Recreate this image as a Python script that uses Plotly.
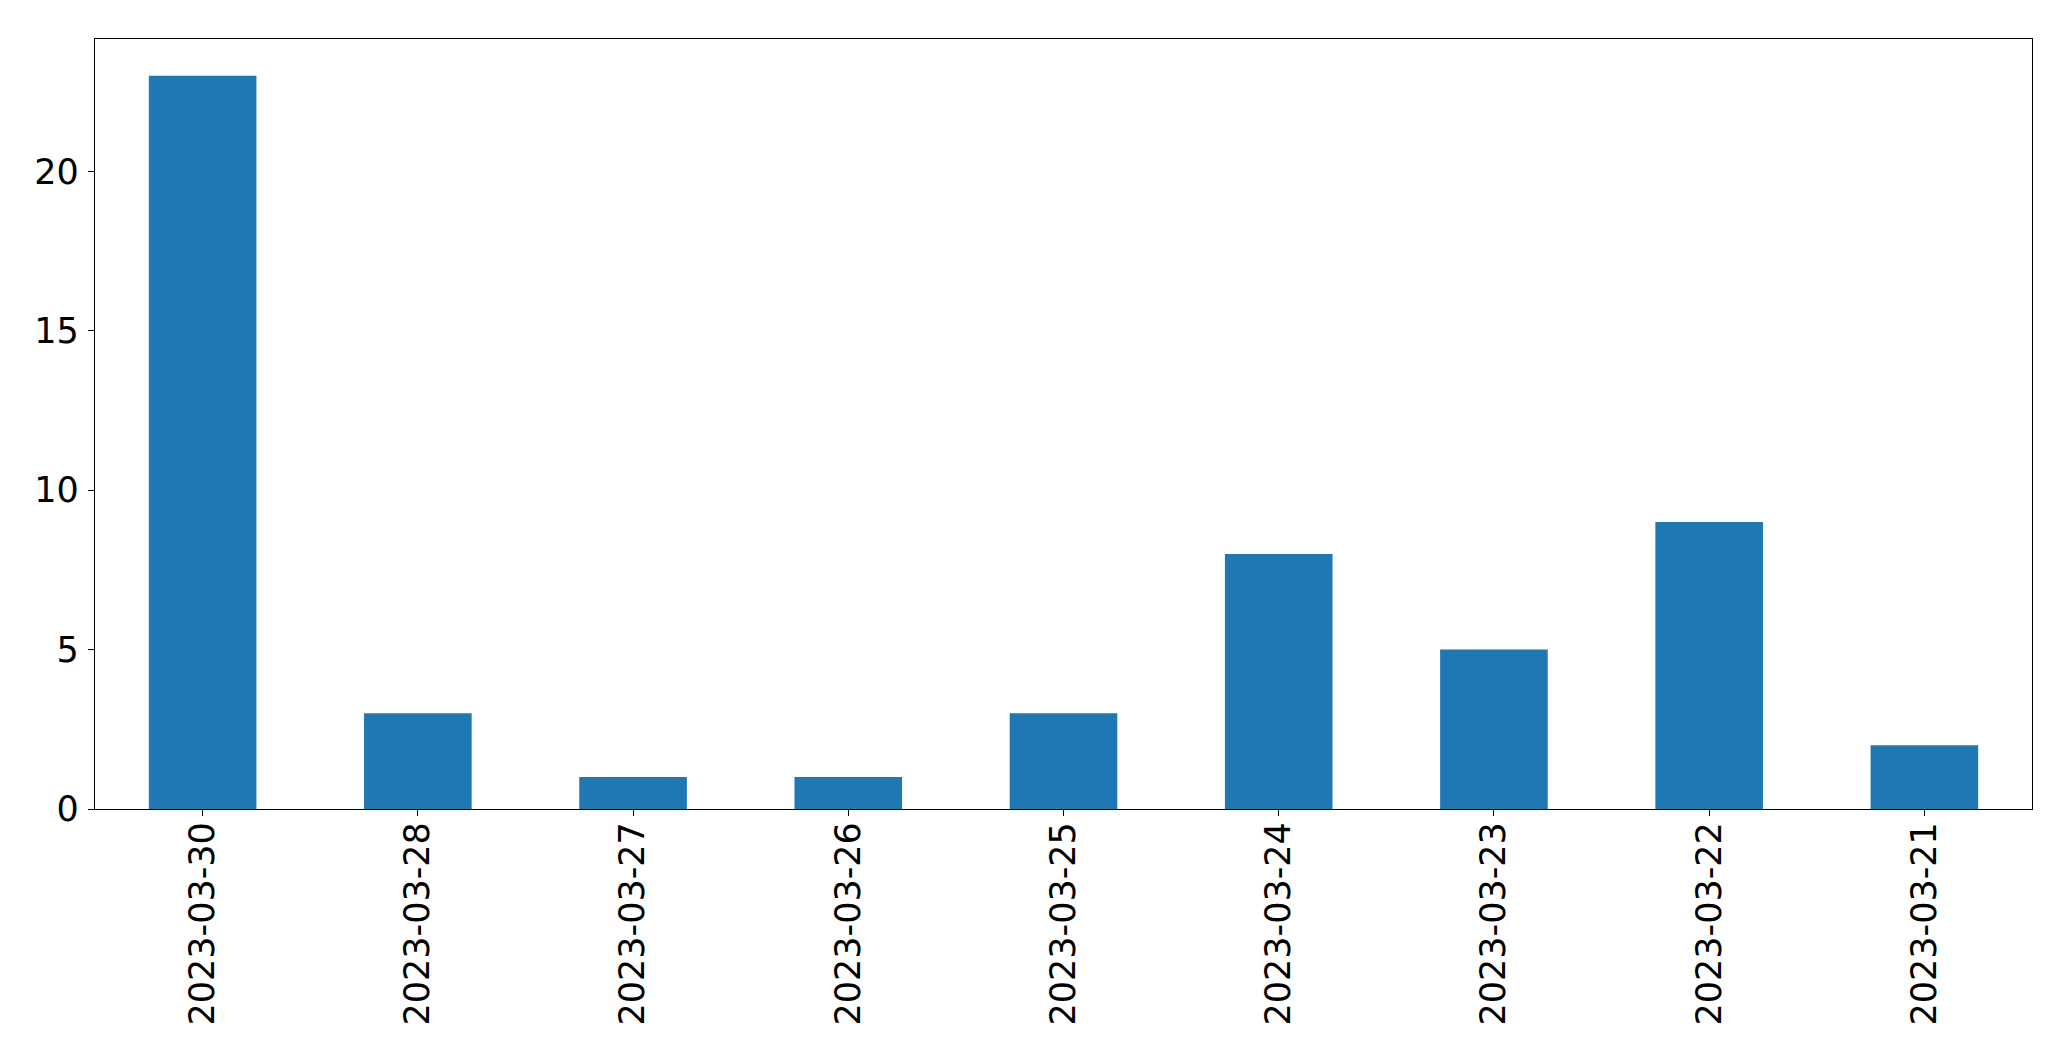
import plotly.graph_objects as go

categories = ["2023-03-30", "2023-03-28", "2023-03-27", "2023-03-26", "2023-03-25",
              "2023-03-24", "2023-03-23", "2023-03-22", "2023-03-21"]
counts = [23, 3, 1, 1, 3, 8, 5, 9, 2]
y_ticks = [0, 5, 10, 15, 20]

fig = go.Figure(go.Bar(x=categories, y=counts, width=0.5, marker_color="#1f77b4",
                       marker_line_width=0))

# the page body has an 8px default margin; compensate so the plot area lands
# at x 95..2032, y 39..809 in the 2071x1061 window
fig.update_layout(
    width=2063, height=1053,
    margin=dict(l=87, r=39, t=31, b=252, pad=0),
    plot_bgcolor="white", paper_bgcolor="white",
    font=dict(family="DejaVu Sans", size=35, color="black"),
    showlegend=False,
)
fig.update_xaxes(type="category", range=[-0.5, 8.5], tickangle=-90,
                 showline=True, linecolor="black", linewidth=1.3, mirror=True,
                 ticks="outside", ticklen=6, tickwidth=1.3, tickcolor="black",
                 showgrid=False, zeroline=False, ticklabelstandoff=-8)
fig.update_yaxes(range=[0, 24.15], tickvals=y_ticks, ticktext=[str(v) for v in y_ticks],
                 showline=True, linecolor="black", linewidth=1.3, mirror=True,
                 ticks="outside", ticklen=6, tickwidth=1.3, tickcolor="black",
                 showgrid=False, zeroline=False, ticklabelstandoff=2)

fig.write_html("out.html")
